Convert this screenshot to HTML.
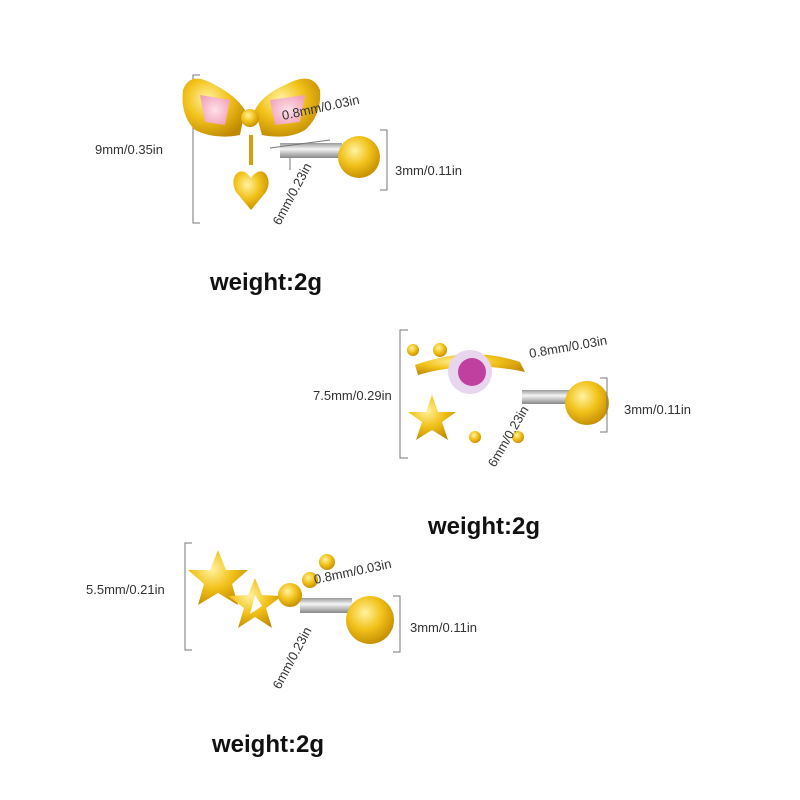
<!DOCTYPE html>
<html><head><style>
html,body{margin:0;padding:0;background:#fff;}
svg{display:block;}
text{font-family:"Liberation Sans",sans-serif;fill:#333;}
.s{font-size:13px;}
.w{font-size:24px;font-weight:bold;fill:#111;}
.d{stroke:#777;stroke-width:1;fill:none;}
</style></head><body>
<svg width="800" height="800" viewBox="0 0 800 800">
<defs>
<radialGradient id="g" cx="40%" cy="35%" r="70%"><stop offset="0" stop-color="#fff2a0"/><stop offset="0.5" stop-color="#f2c21a"/><stop offset="1" stop-color="#c08a00"/></radialGradient>
<linearGradient id="bar" x1="0" y1="0" x2="0" y2="1"><stop offset="0" stop-color="#999"/><stop offset="0.4" stop-color="#f5f5f5"/><stop offset="1" stop-color="#888"/></linearGradient>
<radialGradient id="p" cx="50%" cy="50%" r="60%"><stop offset="0" stop-color="#ffe0ea"/><stop offset="1" stop-color="#f0a0b8"/></radialGradient>
</defs>

<!-- Item 1 -->
<path class="d" d="M200 75 H193 V223 H200"/>
<text class="s" x="95" y="154">9mm/0.35in</text>
<rect x="280" y="143" width="62" height="15" fill="url(#bar)"/>
<path d="M183 90 Q190 70 215 85 Q235 95 245 110 L240 135 Q215 140 195 130 Q180 115 183 90Z" fill="url(#g)"/>
<path d="M320 90 Q312 70 285 85 Q262 95 255 110 L262 135 Q288 140 305 130 Q322 115 320 90Z" fill="url(#g)"/>
<path d="M200 95 L230 100 L225 125 L205 122Z" fill="url(#p)"/>
<path d="M270 100 L305 95 L300 122 L275 125Z" fill="url(#p)"/>
<circle cx="250" cy="118" r="9" fill="url(#g)"/>
<rect x="249" y="135" width="4" height="30" fill="#d4a010"/>
<path d="M251 178 C240 162 228 178 236 192 L251 210 L266 192 C274 178 262 162 251 178Z" fill="url(#g)"/>
<circle cx="359" cy="157" r="21" fill="url(#g)"/>
<path class="d" d="M380 130 H387 V190 H380"/>
<text class="s" x="395" y="175">3mm/0.11in</text>
<text class="s" x="283" y="120" transform="rotate(-12 283 120)">0.8mm/0.03in</text>
<text class="s" x="280" y="226" transform="rotate(-62 280 226)">6mm/0.23in</text>
<path class="d" d="M270 148 L330 140 M290 158 L290 170"/>
<text class="w" x="210" y="290">weight:2g</text>

<!-- Item 2 -->
<path class="d" d="M408 330 H400 V458 H408"/>
<text class="s" x="313" y="400">7.5mm/0.29in</text>
<rect x="522" y="390" width="52" height="14" fill="url(#bar)"/>
<path d="M415 365 Q470 345 520 362 L525 372 Q470 360 418 375Z" fill="url(#g)"/>
<circle cx="470" cy="372" r="22" fill="#e8d6ee"/>
<circle cx="472" cy="372" r="14" fill="#c040a0"/>
<path d="M432 395 L438 412 L456 412 L442 422 L448 440 L432 430 L416 440 L422 422 L408 412 L426 412Z" fill="url(#g)"/>
<circle cx="413" cy="350" r="6" fill="url(#g)"/><circle cx="440" cy="350" r="7" fill="url(#g)"/>
<circle cx="475" cy="437" r="6" fill="url(#g)"/><circle cx="518" cy="437" r="6" fill="url(#g)"/>
<circle cx="587" cy="403" r="22" fill="url(#g)"/>
<path class="d" d="M600 378 H607 V432 H600"/>
<text class="s" x="624" y="414">3mm/0.11in</text>
<text class="s" x="530" y="358" transform="rotate(-10 530 358)">0.8mm/0.03in</text>
<text class="s" x="495" y="468" transform="rotate(-60 495 468)">6mm/0.23in</text>
<text class="w" x="428" y="534">weight:2g</text>

<!-- Item 3 -->
<path class="d" d="M192 543 H185 V650 H192"/>
<text class="s" x="86" y="594">5.5mm/0.21in</text>
<rect x="300" y="598" width="52" height="15" fill="url(#bar)"/>
<path d="M218 550 L226 570 L248 570 L232 584 L238 605 L218 593 L198 605 L204 584 L188 570 L210 570Z" fill="url(#g)"/>
<path d="M255 578 L262 595 L282 596 L266 608 L272 628 L255 617 L238 628 L244 608 L228 596 L248 595Z" fill="url(#g)"/>
<path d="M255 595 L262 606 L250 614Z" fill="#fff"/>
<circle cx="290" cy="595" r="12" fill="url(#g)"/>
<circle cx="310" cy="580" r="8" fill="url(#g)"/>
<circle cx="327" cy="562" r="8" fill="url(#g)"/>
<circle cx="370" cy="620" r="24" fill="url(#g)"/>
<path class="d" d="M393 596 H400 V652 H393"/>
<text class="s" x="410" y="632">3mm/0.11in</text>
<text class="s" x="315" y="584" transform="rotate(-12 315 584)">0.8mm/0.03in</text>
<text class="s" x="280" y="690" transform="rotate(-62 280 690)">6mm/0.23in</text>
<text class="w" x="212" y="752">weight:2g</text>
</svg>
</body></html>
